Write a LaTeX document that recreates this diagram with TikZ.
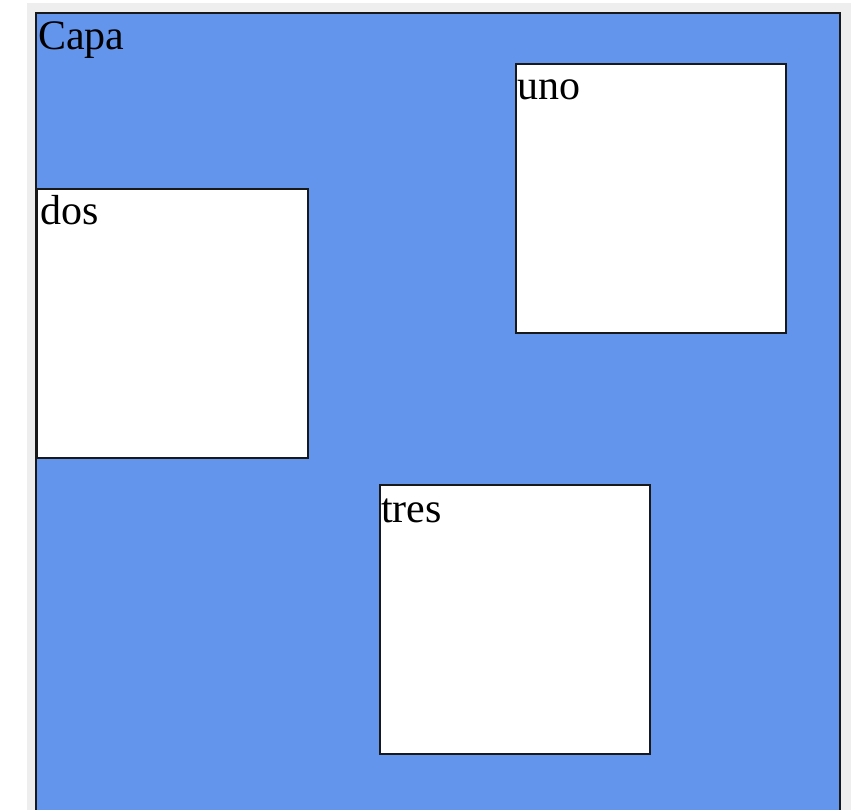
\documentclass[tikz,border=0pt]{standalone}
\usepackage{fontspec}
\setmainfont{Liberation Serif}
\usetikzlibrary{positioning}

\definecolor{capablue}{RGB}{100,149,237}
\definecolor{edgegray}{RGB}{238,238,238}

\tikzset{
    layerbox/.style={rectangle, draw=black!90, line width=2.2pt, anchor=north west, inner sep=0pt},
    tag/.style={anchor=base west, inner sep=0pt, font=\fontsize{42}{50}\selectfont, text=black}
}

\begin{document}
\begin{tikzpicture}[x=1pt, y=-1pt]
    \clip (0,0) rectangle (853,810);
    \fill[white] (0,0) rectangle (853,810);
    \fill[edgegray] (27,3) rectangle (851,810);

    % Outer layer
    \node[layerbox, fill=capablue, minimum width=804pt, minimum height=820pt] (capa) at (35,12) {};
    \node[tag] (capalabel) at ([xshift=3pt, yshift=-38pt]capa.north west) {Capa};

    % Inner boxes
    \node[layerbox, fill=white, minimum width=270pt, minimum height=269pt] (uno) at (515,63) {};
    \node[layerbox, fill=white, minimum width=271pt, minimum height=269pt] (dos) at (36,188) {};
    \node[layerbox, fill=white, minimum width=270pt, minimum height=269pt] (tres) at (379,484) {};

    % Box labels
    \node[tag] (unolabel) at ([xshift=2pt, yshift=-37pt]uno.north west) {uno};
    \node[tag] (doslabel) at ([xshift=4pt, yshift=-37pt]dos.north west) {dos};
    \node[tag] (treslabel) at ([xshift=2pt, yshift=-38pt]tres.north west) {tres};
\end{tikzpicture}
\end{document}
